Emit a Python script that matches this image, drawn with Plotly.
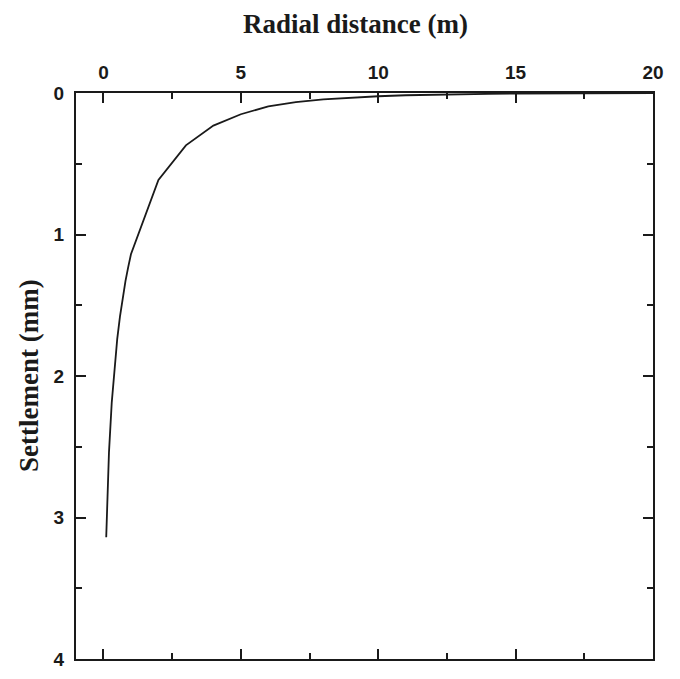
import plotly.graph_objects as go

# Radial distance (m)
distance = [0.1, 0.2, 0.3, 0.4, 0.5, 0.6, 0.7, 0.8, 0.9, 1.0,
            2, 3, 4, 5, 6, 7, 8, 9, 10, 11, 12, 13, 14, 15, 16, 17, 18, 19, 20]
# Settlement (mm)
settlement = [3.14, 2.54, 2.19, 1.94, 1.74, 1.58, 1.45, 1.33, 1.23, 1.14,
              0.615, 0.37, 0.23, 0.15, 0.095, 0.065, 0.045, 0.032, 0.023, 0.016,
              0.011, 0.008, 0.006, 0.004, 0.003, 0.002, 0.002, 0.001, 0.001]

x_ticks = [0, 5, 10, 15, 20]
y_ticks = [0, 1, 2, 3, 4]

ink = "#1a1a1a"

fig = go.Figure()
fig.add_trace(go.Scatter(x=distance, y=settlement, mode="lines",
                         line=dict(color=ink, width=1.8), showlegend=False,
                         hoverinfo="skip"))

tickfont = dict(family="Liberation Sans, Arial, sans-serif", size=19, color=ink, weight="bold")
titlefont = dict(family="Liberation Serif, Times New Roman, serif", size=27, color=ink, weight="bold")

fig.update_layout(
    width=680, height=679,
    margin=dict(l=76, r=27, t=93, b=9),
    paper_bgcolor="white", plot_bgcolor="white",
    xaxis=dict(
        range=[-1, 20], side="top", tickvals=x_ticks, ticktext=[str(v) for v in x_ticks],
        showline=True, linecolor=ink, linewidth=2, mirror="allticks",
        ticks="inside", ticklen=10, tickwidth=2, tickcolor=ink,
        minor=dict(tickvals=[2.5, 7.5, 12.5, 17.5], ticks="inside", ticklen=6, tickwidth=1.5, tickcolor=ink),
        showgrid=False, zeroline=False, tickfont=tickfont, ticklabelstandoff=4,
    ),
    yaxis=dict(
        range=[4, 0], tickvals=y_ticks, ticktext=[str(v) for v in y_ticks],
        showline=True, linecolor=ink, linewidth=2, mirror="allticks",
        ticks="inside", ticklen=10, tickwidth=2, tickcolor=ink,
        minor=dict(tickvals=[0.5, 1.5, 2.5, 3.5], ticks="inside", ticklen=6, tickwidth=1.5, tickcolor=ink),
        showgrid=False, zeroline=False, tickfont=tickfont, ticklabelstandoff=6,
    ),
    annotations=[
        dict(text="Radial distance (m)", xref="paper", yref="paper",
             x=0.5 - 9 / 577, y=1 + 70 / 577, xanchor="center", yanchor="middle",
             showarrow=False, font=titlefont),
        dict(text="Settlement (mm)", xref="paper", yref="paper",
             x=-47 / 577, y=0.5, xanchor="center", yanchor="middle", textangle=-90,
             showarrow=False, font=titlefont),
    ],
)

fig.write_html("out.html")
